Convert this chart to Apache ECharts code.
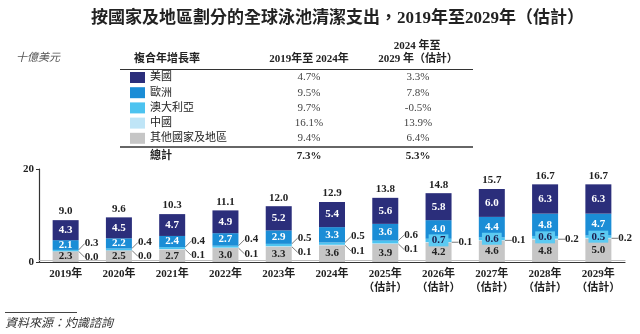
<!DOCTYPE html>
<html>
<head>
<meta charset="utf-8">
<script src="https://cdn.jsdelivr.net/npm/echarts@6/dist/echarts.min.js"></script>
<style>
html,body{margin:0;padding:0;background:#fff;}
#chart{width:640px;height:334px;}
</style>
</head>
<body>
<div id="chart"></div>
<script>
// ---- data ----
const years = ['2019年','2020年','2021年','2022年','2023年','2024年','2025年','2026年','2027年','2028年','2029年'];
const estimated = [false,false,false,false,false,false,true,true,true,true,true];
const usa       = [4.3,4.5,4.7,4.9,5.2,5.4,5.6,5.8,6.0,6.3,6.3];
const europe    = [2.1,2.2,2.4,2.7,2.9,3.3,3.6,4.0,4.4,4.8,4.7];
const australia = [0.3,0.4,0.4,0.4,0.5,0.5,0.6,0.7,0.6,0.6,0.5];
const china     = [0.0,0.0,0.1,0.1,0.1,0.1,0.1,0.1,0.1,0.2,0.2];
const others    = [2.3,2.5,2.7,3.0,3.3,3.6,3.9,4.2,4.6,4.8,5.0];
const totals    = [9.0,9.6,10.3,11.1,12.0,12.9,13.8,14.8,15.7,16.7,16.7];
const regionNames = ['美國','歐洲','澳大利亞','中國','其他國家及地區'];
const cagr2019_2024 = [4.7,9.5,9.7,16.1,9.4];
const cagr2024_2029 = [3.3,7.8,-0.5,13.9,6.4];
const cagrTotal = [7.3,5.3];
const yTicks = [0,20];

const colors = {usa:'#2b2e7b', europe:'#1b8dd6', australia:'#4cc3f0', china:'#bfe5f7', others:'#c6c6c6'};
const FONT = "'Liberation Serif','Noto Sans CJK TC',serif";
const insideFrom = 7; // from 2026 the Australia label sits inside the bar

const categories = years.map((y,i)=> estimated[i] ? y + '\n（估計）' : y);
const fmt = v => v.toFixed(1);

const lblBase = {show:true, fontFamily:FONT, fontWeight:'bold', fontSize:11};

const chart = echarts.init(document.getElementById('chart'), null, {renderer:'canvas'});

const rowY = [77.6, 92.8, 108, 123.2, 138.4];
const graphics = [];
graphics.push({type:'text', left:16, top:53, style:{text:'十億美元', font:"italic 11px 'Liberation Serif','Noto Sans CJK TC',serif", fill:'#555'}});
graphics.push({type:'text', x:167, y:59, style:{text:'複合年增長率', font:"bold 11px "+FONT, fill:'#222', align:'center', verticalAlign:'middle'}});
graphics.push({type:'text', x:309, y:59, style:{text:'2019年至 2024年', font:"bold 11px "+FONT, fill:'#222', align:'center', verticalAlign:'middle'}});
graphics.push({type:'text', x:417, y:46, style:{text:'2024 年至', font:"bold 11px "+FONT, fill:'#222', align:'center', verticalAlign:'middle'}});
graphics.push({type:'text', x:418, y:59, style:{text:'2029 年（估計）', font:"bold 11px "+FONT, fill:'#222', align:'center', verticalAlign:'middle'}});
graphics.push({type:'line', shape:{x1:120,y1:69.5,x2:473,y2:69.5}, style:{stroke:'#333', lineWidth:1.2}});
graphics.push({type:'line', shape:{x1:120,y1:147,x2:473,y2:147}, style:{stroke:'#333', lineWidth:1.5}});
regionNames.forEach((n,i)=>{
  graphics.push({type:'text', x:309, y:rowY[i], style:{text:fmt(cagr2019_2024[i])+'%', font:"11px "+FONT, fill:'#444', align:'center', verticalAlign:'middle'}});
  graphics.push({type:'text', x:418, y:rowY[i], style:{text:fmt(cagr2024_2029[i])+'%', font:"11px "+FONT, fill:'#444', align:'center', verticalAlign:'middle'}});
});
graphics.push({type:'text', x:150, y:156, style:{text:'總計', font:"bold 11px "+FONT, fill:'#222', verticalAlign:'middle'}});
graphics.push({type:'text', x:309, y:156, style:{text:fmt(cagrTotal[0])+'%', font:"bold 11px "+FONT, fill:'#222', align:'center', verticalAlign:'middle'}});
graphics.push({type:'text', x:418, y:156, style:{text:fmt(cagrTotal[1])+'%', font:"bold 11px "+FONT, fill:'#222', align:'center', verticalAlign:'middle'}});
graphics.push({type:'line', shape:{x1:5,y1:312.5,x2:77,y2:312.5}, style:{stroke:'#444', lineWidth:1}});
graphics.push({type:'text', left:5, top:318, style:{text:'資料來源：灼識諮詢', font:"italic 12px "+FONT, fill:'#333'}});

const option = {
  animation:false,
  backgroundColor:'#fff',
  title:{text:'按國家及地區劃分的全球泳池清潔支出，2019年至2029年（估計）', left:86, top:5,
    textStyle:{fontFamily:FONT, fontWeight:'bold', fontSize:17, color:'#222'}},
  legend:{data:regionNames, orient:'vertical', left:130, top:72, itemWidth:15, itemHeight:11, itemGap:4.2,
    icon:'rect', selectedMode:false, padding:0,
    textStyle:{fontFamily:FONT, fontSize:11, color:'#222', lineHeight:11}},
  grid:{left:39, right:15, top:169, bottom:72},
  xAxis:{type:'category', data:categories,
    axisLine:{lineStyle:{color:'#333', width:1.2, shadowColor:'#bdbdbd', shadowOffsetY:-2, shadowBlur:0}},
    axisTick:{show:false},
    axisLabel:{interval:0, fontFamily:FONT, fontWeight:'bold', fontSize:11, color:'#222', lineHeight:14, margin:5}},
  yAxis:{type:'value', min:yTicks[0], max:yTicks[yTicks.length-1], interval:yTicks[1]-yTicks[0],
    splitLine:{show:false},
    axisLine:{show:true, lineStyle:{color:'#333', width:1.2}},
    axisTick:{show:true, length:3, lineStyle:{color:'#333'}},
    axisLabel:{fontFamily:FONT, fontWeight:'bold', fontSize:11, color:'#222', margin:5}},
  graphic:graphics,
  series:[
    {name:'其他國家及地區', type:'bar', stack:'t', barWidth:26, data:others,
      itemStyle:{color:colors.others},
      label:Object.assign({}, lblBase, {position:'inside', color:'#222', formatter:p=>fmt(p.value)})},
    {name:'中國', type:'bar', stack:'t', data:china,
      itemStyle:{color:colors.china},
      label:Object.assign({}, lblBase, {position:'right', distance:2, color:'#222', formatter:p=>fmt(p.value)}),
      labelLine:{show:true, lineStyle:{color:'#555', width:0.8}},
      labelLayout:p=> p.dataIndex < insideFrom ? {dx:4, dy:6} : {dx:5, dy:0}},
    {name:'澳大利亞', type:'bar', stack:'t', data:australia.map((v,i)=> i < insideFrom ? {value:v} :
        {value:v, label:{position:'inside', backgroundColor:'#5ccaf2', padding:[1,3,0,3], color:'#1d1d4d'}, labelLine:{show:false}}),
      itemStyle:{color:colors.australia},
      label:Object.assign({}, lblBase, {position:'right', distance:2, color:'#222', formatter:p=>fmt(p.value)}),
      labelLine:{show:true, lineStyle:{color:'#555', width:0.8}},
      labelLayout:p=> p.dataIndex < insideFrom ? {dx:4, dy:-7} : {}},
    {name:'歐洲', type:'bar', stack:'t', data:europe,
      itemStyle:{color:colors.europe},
      label:Object.assign({}, lblBase, {position:'inside', color:'#fff', formatter:p=>fmt(p.value)})},
    {name:'美國', type:'bar', stack:'t', data:usa,
      itemStyle:{color:colors.usa},
      label:Object.assign({}, lblBase, {position:'inside', color:'#fff', formatter:p=>fmt(p.value)})},
    {name:'總計', type:'bar', stack:'t', data:totals.map(()=>0),
      itemStyle:{color:'transparent'},
      label:Object.assign({}, lblBase, {position:'top', distance:3, color:'#222', formatter:p=>fmt(totals[p.dataIndex])})}
  ]
};
chart.setOption(option);
</script>
</body>
</html>
